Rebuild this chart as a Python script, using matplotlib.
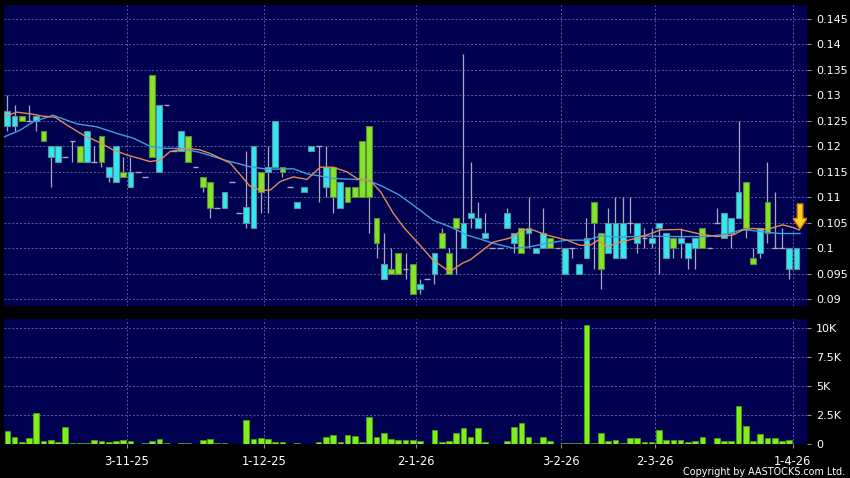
import matplotlib
matplotlib.use('Agg')
import matplotlib.pyplot as plt
from matplotlib.patches import Polygon
from matplotlib.ticker import FuncFormatter

# ---------------- data ----------------
opens = [.124, .124, .126, .125, .125, .123, .118, .117, .118, .121,
         .120, .117, .117, .122, .114, .113, .115, .112, .115, .114,
         .134, .115, .128, .119, .119, .122, .116, .114, .113, .108,
         .108, .113, .107, .105, .104, .115, .115, .116, .116, .112,
         .108, .111, .119, .120, .112, .116, .108, .112, .112, .121,
         .124, .106, .094, .096, .099, .096, .097, .092, .094, .095,
         .103, .099, .106, .100, .106, .104, .102, .100, .100, .104,
         .101, .104, .103, .099, .100, .102, .100, .095, .100, .095,
         .098, .109, .103, .099, .098, .098, .105, .101, .102, .101,
         .104, .098, .102, .101, .098, .100, .104, .100, .105, .102,
         .103, .106, .113, .098, .099, .109, .100, .100, .096, .096]
highs = [.130, .128, .126, .128, .126, .123, .120, .120, .118, .121,
         .120, .123, .120, .122, .116, .120, .118, .118, .115, .114,
         .134, .128, .128, .119, .123, .122, .116, .114, .113, .108,
         .111, .113, .107, .119, .120, .115, .120, .125, .116, .112,
         .109, .112, .120, .120, .120, .116, .113, .112, .112, .121,
         .124, .106, .103, .100, .099, .099, .097, .094, .094, .099,
         .104, .100, .106, .138, .117, .109, .107, .100, .100, .108,
         .103, .104, .110, .100, .108, .102, .100, .100, .100, .097,
         .106, .109, .103, .108, .110, .110, .110, .105, .104, .104,
         .105, .103, .102, .104, .101, .102, .104, .100, .108, .107,
         .106, .125, .113, .100, .104, .117, .111, .104, .100, .100]
lows = [.123, .123, .125, .125, .123, .121, .112, .117, .118, .117,
        .117, .117, .117, .116, .113, .113, .114, .112, .115, .114,
        .118, .115, .128, .119, .119, .117, .116, .111, .106, .108,
        .108, .113, .107, .104, .104, .107, .107, .116, .114, .112,
        .108, .111, .119, .109, .110, .107, .108, .109, .110, .110,
        .103, .098, .094, .095, .095, .094, .091, .091, .094, .093,
        .100, .095, .095, .100, .104, .104, .102, .100, .100, .104,
        .099, .099, .100, .099, .100, .100, .100, .095, .098, .095,
        .098, .096, .092, .099, .098, .098, .103, .099, .100, .100,
        .095, .098, .098, .098, .096, .096, .100, .100, .105, .102,
        .100, .106, .102, .097, .098, .101, .100, .100, .094, .096]
closes = [.127, .126, .125, .125, .126, .121, .120, .120, .118, .121,
          .117, .123, .117, .117, .116, .120, .114, .115, .115, .114,
          .118, .128, .128, .119, .123, .117, .116, .112, .108, .108,
          .111, .113, .107, .108, .120, .111, .116, .125, .115, .112,
          .109, .112, .120, .120, .116, .110, .113, .109, .110, .110,
          .110, .101, .097, .095, .095, .096, .091, .093, .094, .099,
          .100, .095, .104, .105, .107, .106, .103, .100, .100, .107,
          .103, .099, .104, .100, .103, .100, .100, .100, .100, .097,
          .102, .105, .096, .105, .105, .105, .105, .105, .102, .102,
          .105, .103, .100, .102, .101, .102, .100, .100, .105, .107,
          .106, .111, .104, .097, .104, .103, .100, .100, .100, .100]
volumes = [1090, 600, 150, 470, 2650, 230, 290, 150, 1410, 100,
           30, 80, 320, 200, 150, 230, 290, 200, 0, 100,
           230, 400, 100, 0, 80, 80, 0, 350, 400, 50,
           80, 0, 0, 2040, 430, 460, 370, 140, 140, 0,
           50, 0, 0, 140, 550, 780, 140, 780, 660, 140,
           2330, 600, 900, 430, 350, 300, 350, 200, 0, 1150,
           150, 250, 920, 1350, 600, 1350, 140, 0, 0, 230,
           1410, 1810, 600, 50, 600, 200, 0, 100, 50, 50,
           10200, 50, 950, 250, 280, 50, 500, 530, 140, 140,
           1150, 280, 280, 330, 140, 250, 550, 0, 500, 230,
           230, 3220, 1520, 250, 810, 470, 500, 200, 330, 0]

ma_fast_x = [-0.3, 1.3, 3.5, 4.9, 6.6, 8.2, 10.5, 12.8, 14.6, 16.5, 18.3, 19.7,
             21.1, 22.5, 24.8, 26.6, 28.0, 30.8, 33.5, 34.9, 36.3, 37.7, 39.5,
             41.4, 43.2, 45.0, 46.9, 48.3, 50.1, 51.6, 53.3, 54.7, 57.0, 58.8,
             61.1, 62.9, 63.9, 66.0, 67.1, 69.4, 71.2, 72.6, 74.5, 77.3, 79.1,
             80.5, 81.6, 82.8, 84.6, 86.4, 88.1, 90.2, 92.9, 95.7, 98.0, 100.2,
             101.6, 103.0, 104.9, 107.1, 108.5, 109.4]
ma_fast_y = [.1259, .1267, .1263, .1259, .1257, .1242, .1222, .1207, .1193, .1183,
             .1176, .1170, .1173, .1190, .1196, .1193, .1186, .1167, .1122, .1114,
             .1114, .1131, .1140, .1135, .1159, .1159, .1150, .1137, .1133, .1110,
             .1069, .1042, .1006, .0977, .0954, .0971, .0977, .1000, .1012, .1020,
             .1036, .1036, .1026, .1016, .1006, .1006, .1016, .1003, .1012, .1018,
             .1025, .1036, .1037, .1028, .1023, .1026, .1036, .1039, .1037, .1046,
             .1041, .1036]
ma_slow_x = [-0.5, 1.8, 3.6, 6.3, 9.6, 12.4, 15.2, 17.4, 19.7, 21.8, 23.9, 26.6,
             30.3, 33.5, 35.9, 39.5, 41.4, 43.9, 45.0, 49.7, 51.9, 54.2, 57.0,
             58.8, 61.2, 63.5, 65.3, 67.1, 69.9, 72.2, 74.6, 77.3, 80.1, 81.9,
             84.6, 88.1, 92.0, 96.6, 99.4, 101.6, 104.0, 106.7, 109.5]
ma_slow_y = [.1218, .1232, .1248, .1261, .1244, .1238, .1225, .1216, .1200, .1196,
             .1196, .1188, .1172, .1160, .1155, .1156, .1146, .1140, .1137, .1134,
             .1121, .1104, .1075, .1055, .1042, .1026, .1018, .1010, .1000, .1003,
             .1010, .1016, .1016, .1024, .1022, .1024, .1023, .1023, .1028, .1037,
             .1033, .1029, .1029]

date_pos = [16.5, 35.5, 56.5, 76.5, 89.5, 108.5]
date_labels = ['3-11-25', '1-12-25', '2-1-26', '3-2-26', '2-3-26', '1-4-26']
price_ticks = [0.09, 0.095, 0.1, 0.105, 0.11, 0.115, 0.12, 0.125, 0.13, 0.135, 0.14, 0.145]
vol_ticks = [0, 2500, 5000, 7500, 10000]
vol_tick_labels = ['0', '2.5K', '5K', '7.5K', '10K']
arrow_idx, arrow_top, arrow_tip = 109.5, 0.1087, 0.1038

# ---------------- style ----------------
BG = '#000050'
GRID = '#5c5c98'
UP = '#30E8F2'
UP_EDGE = '#5a8f9a'
DOWN = '#84E426'
DOWN_EDGE = '#5d8a3c'
WICK = '#a8a8c0'
VOL = '#7CF01A'
VOL_EDGE = '#4f9a1a'

fig = plt.figure(figsize=(8.5, 4.78), dpi=100, facecolor='black')
W, H = 850.0, 478.0
ax = fig.add_axes([4 / W, 1 - 306 / H, 803.3 / W, 301 / H])
axv = fig.add_axes([4 / W, 1 - 443.7 / H, 803.3 / W, 124.7 / H])

def p_of(y):
    return 0.1 + (248.3 - y) / 5100.0

for a in (ax, axv):
    a.set_facecolor(BG)
    for s in a.spines.values():
        s.set_visible(False)
    a.set_xlim(-0.46, 110.5)
    for d in date_pos:
        a.axvline(d, color=GRID, lw=0.7, ls=(0, (2, 2)), zorder=1)

ax.set_ylim(p_of(306), p_of(5))
axv.set_ylim(0, 10750)

for t in price_ticks:
    ax.axhline(t, color=GRID, lw=0.7, ls=(0, (2, 2)), zorder=1)
for t in vol_ticks[1:]:
    axv.axhline(t, color=GRID, lw=0.7, ls=(0, (2, 2)), zorder=1)

n = len(opens)
idx = list(range(n))
bw = 0.8
# wicks
ax.vlines(idx, lows, highs, color=WICK, lw=0.9, zorder=2)
# bodies
for i in idx:
    o, c = opens[i], closes[i]
    if abs(c - o) < 1e-9:
        ax.hlines(o, i - bw / 2, i + bw / 2, color=WICK, lw=1.0, zorder=3)
    else:
        col, ec = (UP, UP_EDGE) if c > o else (DOWN, DOWN_EDGE)
        ax.bar(i, abs(c - o), bottom=min(o, c), width=bw, color=col,
               edgecolor=ec, linewidth=0.8, zorder=3)

ax.plot(ma_slow_x, ma_slow_y, color='#3f9ee0', lw=1.0, zorder=4)
ax.plot(ma_fast_x, ma_fast_y, color='#e08c55', lw=1.0, zorder=5)

# yellow arrow marker
sx = 2.8 / 7.24
hx = 7.0 / 7.24
neck = arrow_tip + (arrow_top - arrow_tip) * 0.42
poly = [(arrow_idx - sx, arrow_top), (arrow_idx + sx, arrow_top),
        (arrow_idx + sx, neck), (arrow_idx + hx, neck),
        (arrow_idx, arrow_tip), (arrow_idx - hx, neck), (arrow_idx - sx, neck)]
ax.add_patch(Polygon(poly, closed=True, facecolor='#FFD21E', edgecolor='#E07B00',
                     lw=1.0, zorder=6))

# volume
axv.bar(idx, volumes, width=0.78, color=VOL, edgecolor=VOL_EDGE, linewidth=0.6, zorder=3)

# axes ticks
ax.yaxis.tick_right()
ax.set_yticks(price_ticks)
ax.yaxis.set_major_formatter(FuncFormatter(lambda v, p: ('%.3f' % v).rstrip('0').rstrip('.')))
ax.tick_params(axis='y', colors='#909090', labelcolor='white', length=3, width=0.8,
               pad=3.5, labelsize=8)
ax.set_xticks([])

axv.yaxis.tick_right()
axv.set_yticks(vol_ticks)
axv.set_yticklabels(vol_tick_labels)
axv.tick_params(axis='y', colors='#909090', labelcolor='white', length=3, width=0.8,
                pad=3.5, labelsize=8)
axv.set_xticks(date_pos)
axv.set_xticklabels(date_labels)
axv.tick_params(axis='x', colors='#909090', labelcolor='white', length=3, width=0.8,
                pad=5, labelsize=8.3)

fig.text(845 / W, 1 - 477 / H, 'Copyright by AASTOCKS.com Ltd.', color='white',
         fontsize=6.9, ha='right', va='bottom')

fig.savefig('out.png', dpi=100, facecolor='black')
